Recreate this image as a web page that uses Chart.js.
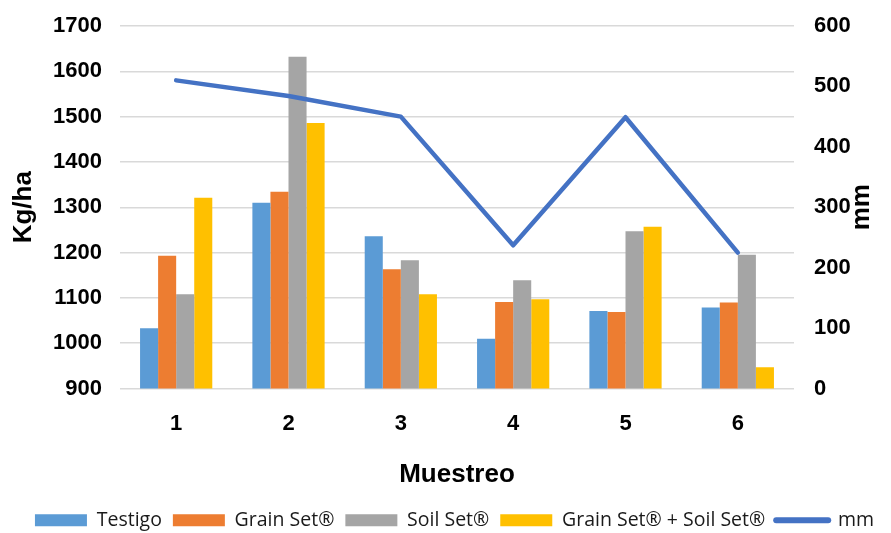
<!DOCTYPE html>
<html>
<head>
<meta charset="utf-8">
<script src="https://cdn.jsdelivr.net/npm/chart.js@4/dist/chart.umd.min.js"></script>
<style>
  html, body { margin: 0; padding: 0; background: #ffffff; }
  #wrap { width: 891px; height: 533px; position: relative; }
</style>
</head>
<body>
<div id="wrap"><canvas id="chart" width="891" height="533"></canvas></div>
<script>
// Sampling rounds
const categories = ['1', '2', '3', '4', '5', '6'];

// Yield per treatment (kg/ha)
const testigo      = [1033, 1310, 1236, 1010, 1071, 1079];
const grainSet     = [1193, 1334, 1163, 1091, 1069, 1090];
const soilSet      = [1108, 1632, 1183, 1139, 1247, 1195];
const grainSoilSet = [1321, 1486, 1108, 1097, 1257, 947];

// Rainfall (mm)
const rainfall = [510, 484, 450, 237, 449, 225];

// Axis ranges
const yieldTicks = { min: 900, max: 1700, step: 100 };
const rainTicks  = { min: 0, max: 600, step: 100 };

const tickFont  = { family: '"Liberation Sans", Arial, sans-serif', size: 22, weight: 'bold' };
const titleFont = { family: '"Liberation Sans", Arial, sans-serif', size: 26, weight: 'bold' };
const gridColor = '#d9d9d9';

// Right-hand axis title, written bottom-to-top like the left one
const rightTitle = {
  id: 'rightTitle',
  afterDraw(chart) {
    const s = chart.scales.y1;
    const ctx = chart.ctx;
    ctx.save();
    ctx.font = 'bold 26px "Liberation Sans", Arial, sans-serif';
    ctx.fillStyle = '#000';
    ctx.textAlign = 'center';
    ctx.textBaseline = 'middle';
    ctx.translate(s.right - 29, (s.top + s.bottom) / 2);
    ctx.rotate(-Math.PI / 2);
    ctx.fillText('mm', 0, 0);
    ctx.restore();
  }
};

function fixVertical(width) {
  return function (scale) {
    scale.width = width;
    scale.paddingTop = 0;
    scale.paddingBottom = 0;
  };
}

new Chart(document.getElementById('chart'), {
  data: {
    labels: categories,
    datasets: [
      { type: 'bar', label: 'Testigo', data: testigo, backgroundColor: '#5B9BD5', yAxisID: 'y', order: 1 },
      { type: 'bar', label: 'Grain Set®', data: grainSet, backgroundColor: '#ED7D31', yAxisID: 'y', order: 1 },
      { type: 'bar', label: 'Soil Set®', data: soilSet, backgroundColor: '#A5A5A5', yAxisID: 'y', order: 1 },
      { type: 'bar', label: 'Grain Set® + Soil Set®', data: grainSoilSet, backgroundColor: '#FFC000', yAxisID: 'y', order: 1 },
      { type: 'line', label: 'mm', data: rainfall, borderColor: '#4472C4', backgroundColor: '#4472C4',
        borderWidth: 4.5, pointRadius: 0, tension: 0, borderCapStyle: 'round', borderJoinStyle: 'round',
        yAxisID: 'y1', order: 0 }
    ]
  },
  plugins: [rightTitle],
  options: {
    responsive: false,
    animation: false,
    devicePixelRatio: 1,
    layout: { autoPadding: false, padding: { left: 18, right: 0, top: 26, bottom: -7 } },
    datasets: {
      bar: { categoryPercentage: 0.643, barPercentage: 1.0, borderWidth: 0 }
    },
    plugins: {
      tooltip: { enabled: false },
      legend: {
        position: 'bottom',
        labels: {
          font: { family: '"Open Sans", sans-serif', size: 19.5 },
          color: '#1a1a1a',
          usePointStyle: true,
          pointStyleWidth: 52,
          boxHeight: 12,
          padding: 11,
          generateLabels(chart) {
            const items = Chart.defaults.plugins.legend.labels.generateLabels(chart);
            items.forEach(it => {
              const ds = chart.data.datasets[it.datasetIndex];
              it.pointStyle = ds.type === 'line' ? 'line' : 'rect';
              if (ds.type !== 'line') { it.lineWidth = 0; it.strokeStyle = ds.backgroundColor; }
              else { it.lineWidth = 6; it.lineCap = 'round'; }
            });
            return items;
          },
          sort: (a, b) => a.datasetIndex - b.datasetIndex
        }
      }
    },
    scales: {
      x: {
        grid: { display: false, drawTicks: false },
        border: { display: false },
        ticks: { font: tickFont, color: '#000', padding: 22 },
        title: { display: true, text: 'Muestreo', font: titleFont, color: '#000', padding: { top: 0, bottom: 9 } },
        afterFit(scale) { scale.height = 111; scale.paddingLeft = 0; scale.paddingRight = 0; }
      },
      y: {
        position: 'left',
        min: yieldTicks.min, max: yieldTicks.max,
        ticks: { stepSize: yieldTicks.step, font: tickFont, color: '#000', padding: 18,
                 callback: v => String(v) },
        grid: { color: gridColor, lineWidth: 1.5, drawTicks: false },
        border: { display: false },
        title: { display: true, text: 'Kg/ha', font: titleFont, color: '#000', padding: { top: -10, bottom: 0 } },
        afterFit: fixVertical(102)
      },
      y1: {
        position: 'right',
        min: rainTicks.min, max: rainTicks.max,
        ticks: { stepSize: rainTicks.step, font: tickFont, color: '#000', padding: 20,
                 callback: v => String(v) },
        grid: { drawOnChartArea: false, drawTicks: false },
        border: { display: false },
        title: { display: false },
        afterFit: fixVertical(97)
      }
    }
  }
});
</script>
</body>
</html>
